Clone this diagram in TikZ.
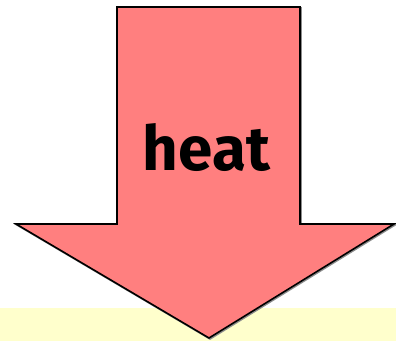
\documentclass[tikz,border=0pt]{standalone}
\usepackage{fontspec}
\setmainfont{Fira Sans}
\definecolor{arrowpink}{HTML}{FF7F7F}
\definecolor{bandyellow}{HTML}{FFFFCC}
\tikzset{
  bigarrow/.style={fill=arrowpink, draw=black, line width=1.6pt, line join=miter},
  arrowshadow/.style={draw=black!45, line width=1.6pt, line join=miter},
  label/.style={font=\fontsize{62}{62}\selectfont\bfseries, text=black, anchor=base, inner sep=0pt}
}
\begin{document}
\begin{tikzpicture}[x=1pt, y=-1pt]
\useasboundingbox (0,0) rectangle (396,341);
\fill[bandyellow] (0,308) rectangle (396,341);
\draw[arrowshadow, shift={(1,1)}] (117,7) -- (300,7) -- (300,224) -- (394,224) -- (209,338) -- (16,224) -- (117,224) -- cycle;
\draw[bigarrow] (117,7) -- (300,7) -- (300,224) -- (394,224) -- (209,338) -- (16,224) -- (117,224) -- cycle;
\node[label] (heat) at (206.5,170) {heat};
\end{tikzpicture}
\end{document}
